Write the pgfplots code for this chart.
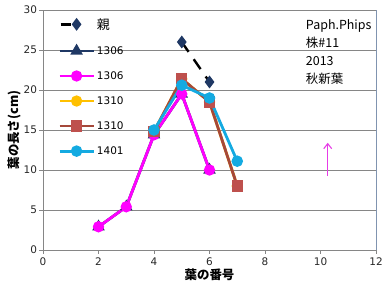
\documentclass[border=0pt]{standalone}
\usepackage{fontspec}
\setmainfont{DejaVu Sans}
\newfontfamily\jp{Noto Sans CJK JP}
\usepackage{pgfplots}
\pgfplotsset{compat=1.18}
\usetikzlibrary{arrows.meta}

\definecolor{gridgray}{RGB}{134,134,134}
\definecolor{frameblue}{RGB}{128,148,176}
\definecolor{navy}{RGB}{31,56,100}
\definecolor{pmag}{RGB}{255,0,255}
\definecolor{pyel}{RGB}{255,192,0}
\definecolor{pbrown}{RGB}{165,72,58}
\definecolor{pbrownm}{RGB}{190,80,77}
\definecolor{pcyan}{RGB}{20,170,225}
\definecolor{arrowmag}{RGB}{230,60,230}

\begin{document}
\begin{tikzpicture}
\path[use as bounding box] (-43bp,-40bp) rectangle (349bp,250bp);
\begin{axis}[
  at={(0,0)}, anchor=south west,
  scale only axis, width=333bp, height=240bp,
  xmin=0, xmax=12, ymin=0, ymax=30,
  xtick={0,2,...,12}, ytick={0,5,...,30},
  axis line style={gridgray, line width=0.8bp},
  axis x line*=bottom, axis y line*=left,
  tick style={gridgray, line width=0.8bp},
  tick align=outside, major tick length=3.5bp,
  ymajorgrids, grid style={gridgray, line width=0.8bp},
  /pgf/number format/assume math mode=true,
  tick label style={font=\fontsize{10.5}{12}\selectfont, text=black!85},
  yticklabel style={xshift=1bp},
  xticklabel style={yshift=-1bp},
  xlabel={\jp\bfseries 葉の番号},
  ylabel={\jp\bfseries 葉の長さ(cm)},
  label style={font=\fontsize{12.5}{14}\selectfont},
  xlabel style={yshift=4bp},
  ylabel style={yshift=-4bp},
  legend style={draw=none, fill=none, at={(0.045,0.975)}, anchor=north west,
    font=\fontsize{10.5}{12}\selectfont, row sep=11.8bp,
    inner sep=0pt},
  legend cell align=left,
  legend image code/.code={%
    \draw[mark repeat=2, mark phase=2] plot coordinates {(0bp,0bp) (17bp,0bp) (34bp,0bp)};},
  clip=false,
]
% plot frame on the right
\draw[frameblue, line width=0.8bp] (axis cs:12,0) -- (axis cs:12,30);

% parent plant
\addplot[black, line width=2.4bp, dash pattern=on 12bp off 9bp,
  mark=diamond*, mark size=4.5bp, mark options={solid, fill=navy, draw=navy},
  legend image code/.code={%
    \draw[mark=none, dash pattern=on 10bp off 4bp] (1bp,0bp) -- (17bp,0bp);
    \draw[solid, fill=navy, draw=navy] plot[mark=diamond*, mark size=4.5bp] coordinates {(17bp,0bp)};
    \path (34bp,0bp);}]
  coordinates {(5,26.0) (6,21.0)};
\addlegendentry{\jp\fontsize{13}{14}\selectfont 親}

% 1306 (first)
\addplot[navy, line width=2.8bp, mark=triangle*, mark size=4.5bp, mark options={fill=navy}]
  coordinates {(2,2.9) (3,5.4) (4,14.4) (5,19.5) (6,10.0)};
\addlegendentry{1306}

% 1306 (second)
\addplot[pmag, line width=2.8bp, mark=*, mark size=4.2bp, mark options={fill=pmag}]
  coordinates {(2,2.9) (3,5.4) (4,14.4) (5,19.5) (6,10.0)};
\addlegendentry{1306}

% 1310 (first)
\addplot[pyel, line width=2.8bp, mark=*, mark size=4.2bp, mark options={fill=pyel}]
  coordinates {(4,14.8) (5,21.4) (6,18.5) (7,8.0)};
\addlegendentry{1310}

% 1310 (second)
\addplot[pbrown, line width=2.8bp, mark=square*, mark size=4.2bp, mark options={fill=pbrownm, draw=pbrownm}]
  coordinates {(4,14.8) (5,21.4) (6,18.5) (7,8.0)};
\addlegendentry{1310}

% 1401
\addplot[pcyan, line width=2.8bp, mark=*, mark size=4.3bp, mark options={fill=pcyan}]
  coordinates {(4,15.0) (5,20.6) (6,19.0) (7,11.1)};
\addlegendentry{1401}

% notes
\node[anchor=north west, align=left, inner sep=0pt,
  font=\jp\fontsize{12.5}{18}\selectfont]
  at (axis cs:9.47,28.8) {Paph.Phips\\株\#11\\2013\\秋新葉};
\draw[arrowmag, line width=1.1bp, -{Straight Barb[length=5bp,width=8bp]}]
  (axis cs:10.26,9.3) -- (axis cs:10.26,13.4);
\end{axis}
\end{tikzpicture}
\end{document}
